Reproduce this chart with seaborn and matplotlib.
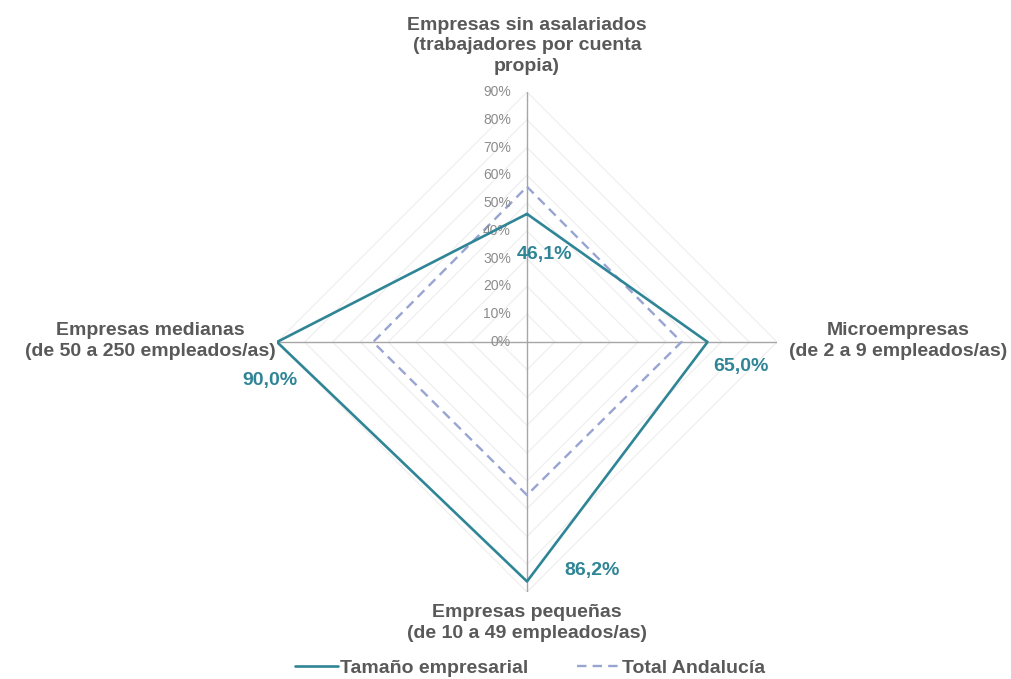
import numpy as np
import pandas as pd
import matplotlib
matplotlib.use('Agg')
import matplotlib.pyplot as plt
import seaborn as sns

# Datos del gráfico
categorias = ['Empresas sin asalariados\n(trabajadores por cuenta\npropia)',
              'Microempresas\n(de 2 a 9 empleados/as)',
              'Empresas pequeñas\n(de 10 a 49 empleados/as)',
              'Empresas medianas\n(de 50 a 250 empleados/as)']
tamano_empresarial = [46.1, 65.0, 86.2, 90.0]
total_andalucia = [55.9, 55.6, 55.1, 55.4]
etiquetas_valor = ['46,1%', '65,0%', '86,2%', '90,0%']
niveles = [0, 10, 20, 30, 40, 50, 60, 70, 80, 90]

color_teal = '#2F8596'
color_lila = '#98A4D2'
color_texto = '#595959'

sns.set_theme(style='white')
plt.rcParams['font.family'] = ['Liberation Sans', 'DejaVu Sans']

W, H = 1012, 679
fig = plt.figure(figsize=(W / 100, H / 100), dpi=100)
cx, cy, rad = 527, 342, 250
ax = fig.add_axes([(cx - rad) / W, (H - cy - rad) / H, 2 * rad / W, 2 * rad / H],
                  projection='polar')
ax.set_theta_offset(np.pi / 2)
ax.set_theta_direction(-1)
ax.set_ylim(0, 90)
ax.spines['polar'].set_visible(False)
ax.set_facecolor('none')
ax.grid(False)
ax.set_xticks([])
ax.set_yticks([])

angulos = np.linspace(0, 2 * np.pi, len(categorias), endpoint=False)
ang_cerrado = np.append(angulos, 2 * np.pi)

# Rejilla poligonal
for n in niveles[1:]:
    ax.plot(ang_cerrado, [n] * len(ang_cerrado), color='#efefef', lw=0.9, zorder=0)
# Ejes radiales
for a in angulos:
    ax.plot([a, a], [0, 90], color='#a6a6a6', lw=1.0, zorder=1)

# Etiquetas de porcentaje
for n in niveles:
    ax.annotate(f'{n}%', (0, n), xytext=(-16, 0), textcoords='offset pixels',
                ha='right', va='center', fontsize=10, color='#8c8c8c')

df1 = pd.DataFrame({'ang': ang_cerrado, 'valor': tamano_empresarial + tamano_empresarial[:1]})
df2 = pd.DataFrame({'ang': ang_cerrado, 'valor': total_andalucia + total_andalucia[:1]})

sns.lineplot(data=df1, x='ang', y='valor', sort=False, ax=ax, color=color_teal,
             lw=1.9, label='Tamaño empresarial', zorder=3)
sns.lineplot(data=df2, x='ang', y='valor', sort=False, ax=ax, color=color_lila,
             lw=1.7, label='Total Andalucía', zorder=2)
ax.lines[-1].set_linestyle((0, (4, 2.6)))
ax.set_xlabel('')
ax.set_ylabel('')
ax.set_xticks([])
ax.set_yticks([])
ax.get_legend().remove()

# Etiquetas de valor
offsets = [(18, -41), (33, -25), (65, 11), (-7, -38)]
for a, v, t, off in zip(angulos, tamano_empresarial, etiquetas_valor, offsets):
    ax.annotate(t, (a, v), xytext=off, textcoords='offset pixels', ha='center',
                va='center', fontsize=14, fontweight='bold', color=color_teal)

# Etiquetas de categorías
pos_cat = [(527, 46), (898, 341), (527, 623), (150, 341)]
for c, (px_, py_) in zip(categorias, pos_cat):
    fig.text(px_ / W, 1 - py_ / H, c, ha='center', va='center', fontsize=14,
             fontweight='bold', color=color_texto, linespacing=1.25)

handles, labels = ax.get_legend_handles_labels()
fig.legend(handles, labels, loc='center', bbox_to_anchor=(530 / W, 1 - 668 / H),
           ncol=2, frameon=False, handlelength=2.2, columnspacing=2.5,
           handletextpad=0.1, prop={'size': 14, 'weight': 'bold'},
           labelcolor=color_texto)

plt.savefig('out.png', dpi=100)
